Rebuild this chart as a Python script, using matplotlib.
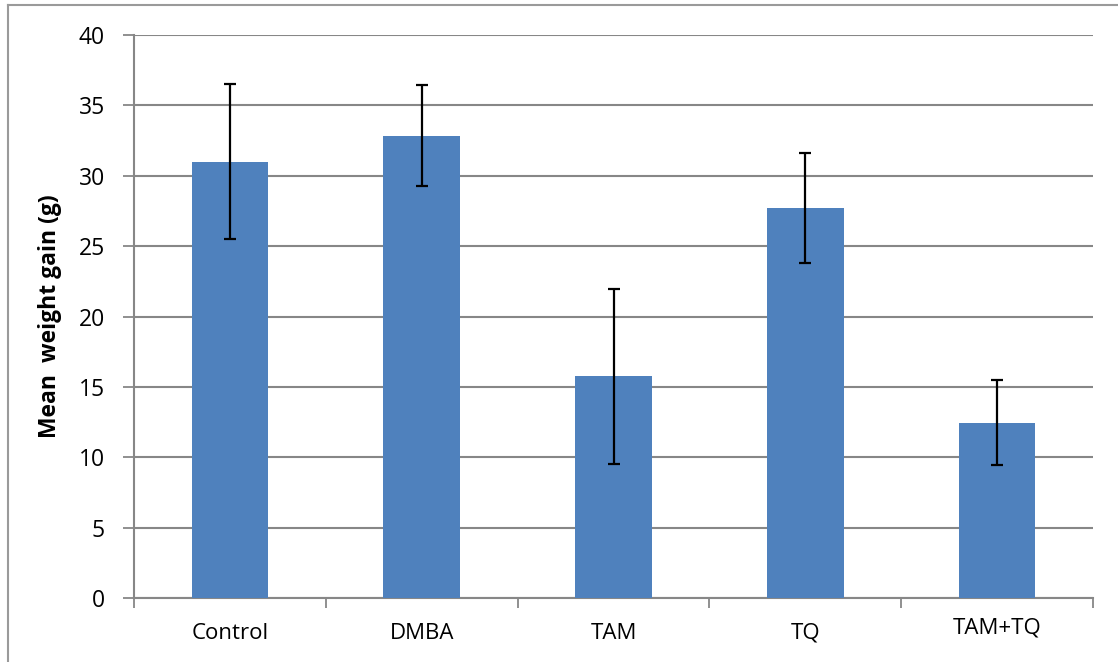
import matplotlib
matplotlib.use("Agg")
import matplotlib.pyplot as plt
from matplotlib.lines import Line2D

categories = ["Control", "DMBA", "TAM", "TQ", "TAM+TQ"]
means = [31.0, 32.85, 15.75, 27.7, 12.45]
errors = [5.5, 3.6, 6.2, 3.9, 3.03]
yticks = [0, 5, 10, 15, 20, 25, 30, 35, 40]

W, H = 1118, 662
fig = plt.figure(figsize=(W / 100, H / 100), dpi=100)
ax = fig.add_axes([134 / W, 1 - 598 / H, (1093 - 134) / W, (598 - 35) / H])

font = "Open Sans"
grid_c = "#878787"
x = list(range(len(categories)))
ax.bar(x, means, width=0.4, color="#4F81BD", zorder=3)
ax.errorbar(x, means, yerr=errors, fmt="none", ecolor="black", elinewidth=1.6,
            capsize=4.5, capthick=1.6, zorder=4)

ax.set_xlim(-0.5, len(categories) - 0.5)
ax.set_ylim(0, 40)
ax.set_yticks(yticks)
ax.set_yticklabels([str(v) for v in yticks], fontsize=16.5, fontfamily=font)
ax.yaxis.grid(True, color=grid_c, linewidth=1.5, zorder=0)
ax.set_axisbelow(True)

ax.set_xticks([i + 0.5 for i in range(-1, len(categories))], minor=False)
ax.set_xticklabels([])
ax.tick_params(axis="x", direction="out", length=7, width=1.3, color=grid_c)
ax.tick_params(axis="y", direction="out", length=8, width=1.3, color=grid_c, pad=13)
ax.set_xticks(x, minor=True)
ax.set_xticklabels(categories, minor=True, fontsize=16, fontfamily=font)
ax.tick_params(axis="x", which="minor", length=0, pad=18)
for lbl in ax.get_xticklabels(minor=True):
    if lbl.get_text() == "TAM+TQ":
        lbl.set_y(0.01)

for s in ["top", "right"]:
    ax.spines[s].set_visible(False)
for s in ["left", "bottom"]:
    ax.spines[s].set_color(grid_c)
    ax.spines[s].set_linewidth(1.5)

ax.set_ylabel("Mean  weight gain (g)", fontsize=16.5, fontweight="bold",
              fontfamily=font, labelpad=12)

fig.add_artist(Line2D([8 / W, 1], [1 - 5 / H, 1 - 5 / H], color="#9a9a9a", lw=1.5,
                      transform=fig.transFigure))
fig.add_artist(Line2D([8 / W, 8 / W], [0, 1 - 5 / H], color="#9a9a9a", lw=1.5,
                      transform=fig.transFigure))

fig.savefig("out.png", dpi=100)
